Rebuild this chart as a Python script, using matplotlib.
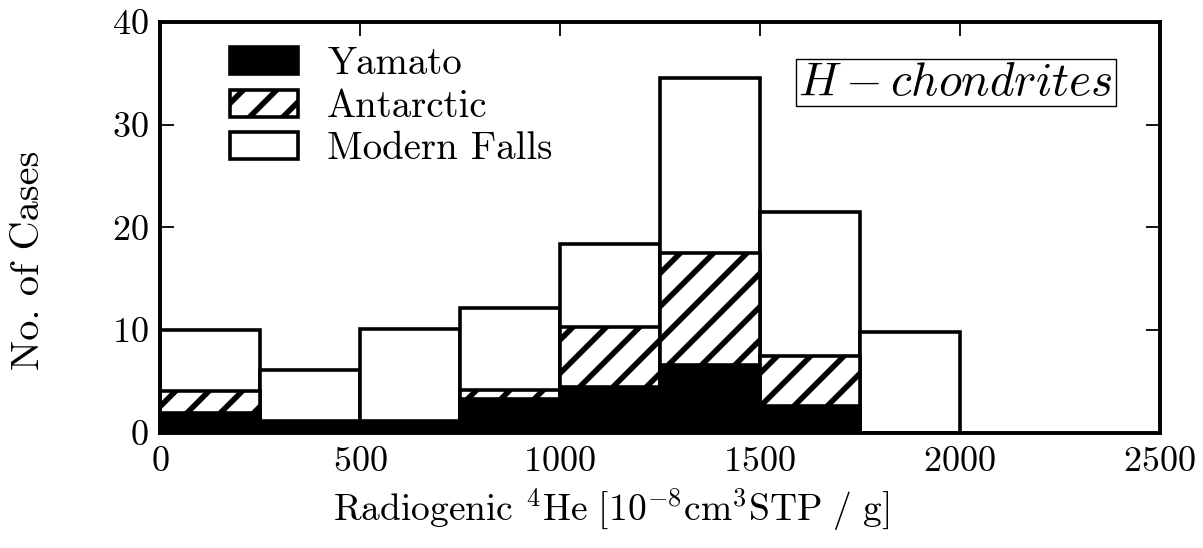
import matplotlib
matplotlib.use("Agg")
import matplotlib.pyplot as plt
from matplotlib.patches import Patch
import numpy as np

# Data
bin_edges = [0, 250, 500, 750, 1000, 1250, 1500, 1750, 2000]
modern_falls_total = [10.0, 6.1, 10.1, 12.2, 18.4, 34.5, 21.5, 9.8]
antarctic = [4.1, 0.0, 0.0, 4.2, 10.3, 17.5, 7.5, 0.0]
yamato = [1.9, 1.2, 1.2, 3.3, 4.5, 6.6, 2.6, 0.0]

xticks = [0, 500, 1000, 1500, 2000, 2500]
yticks = [0, 10, 20, 30, 40]

plt.rcParams['font.family'] = ['cmr10', 'DejaVu Serif']
plt.rcParams['mathtext.fontset'] = 'cm'
plt.rcParams['axes.formatter.use_mathtext'] = True
plt.rcParams['hatch.linewidth'] = 4.0

fig = plt.figure(figsize=(12.03, 5.48), dpi=100)
ax = fig.add_axes([0.133, 0.21, 0.831, 0.75])

left = np.array(bin_edges[:-1])
width = np.diff(bin_edges)

ax.bar(left, modern_falls_total, width=width, align='edge', facecolor='white',
       edgecolor='black', linewidth=2.6, zorder=2)
ax.bar(left, antarctic, width=width, align='edge', facecolor='white',
       edgecolor='black', hatch='/', linewidth=2.6, zorder=3)
ax.bar(left, yamato, width=width, align='edge', facecolor='black',
       edgecolor='black', linewidth=2.6, zorder=4)

ax.set_xlim(0, 2500)
ax.set_ylim(0, 40)
ax.set_xticks(xticks)
ax.set_yticks(yticks)
ax.tick_params(direction='in', top=True, right=True, length=10, width=1.3,
               labelsize=26)
ax.tick_params(axis='y', pad=8)
ax.tick_params(axis='x', pad=10)
for s in ax.spines.values():
    s.set_linewidth(2.8)
    s.set_zorder(5)

ax.set_ylabel('No. of Cases', fontsize=29)
ax.yaxis.set_label_coords(-0.113, 0.42)
ax.set_xlabel(r'Radiogenic ${}^{4}\mathrm{He}\ [10^{-8}\mathrm{cm}^{3}\mathrm{STP}\ /\ \mathrm{g}]$',
              fontsize=27, va='top')
ax.xaxis.set_label_coords(0.451, -0.13)

handles = [Patch(facecolor='black', edgecolor='black', linewidth=2.6, label='Yamato'),
           Patch(facecolor='white', edgecolor='black', hatch='/', linewidth=2.6, label='Antarctic'),
           Patch(facecolor='white', edgecolor='black', linewidth=2.6, label='Modern Falls')]
leg = ax.legend(handles=handles, loc='upper left', bbox_to_anchor=(0.07, 0.94),
                frameon=False, fontsize=28, handlelength=1.75, handleheight=0.7,
                labelspacing=0.17, handletextpad=0.75, borderpad=0, borderaxespad=0)
leg.set_zorder(6)

ax.text(0.953, 0.852, r'$H-chondrites$', transform=ax.transAxes, fontsize=34,
        ha='right', va='center', zorder=6,
        bbox=dict(boxstyle='square,pad=0.06', facecolor='white', edgecolor='black', linewidth=1.0))

fig.savefig('out.png', dpi=100)
